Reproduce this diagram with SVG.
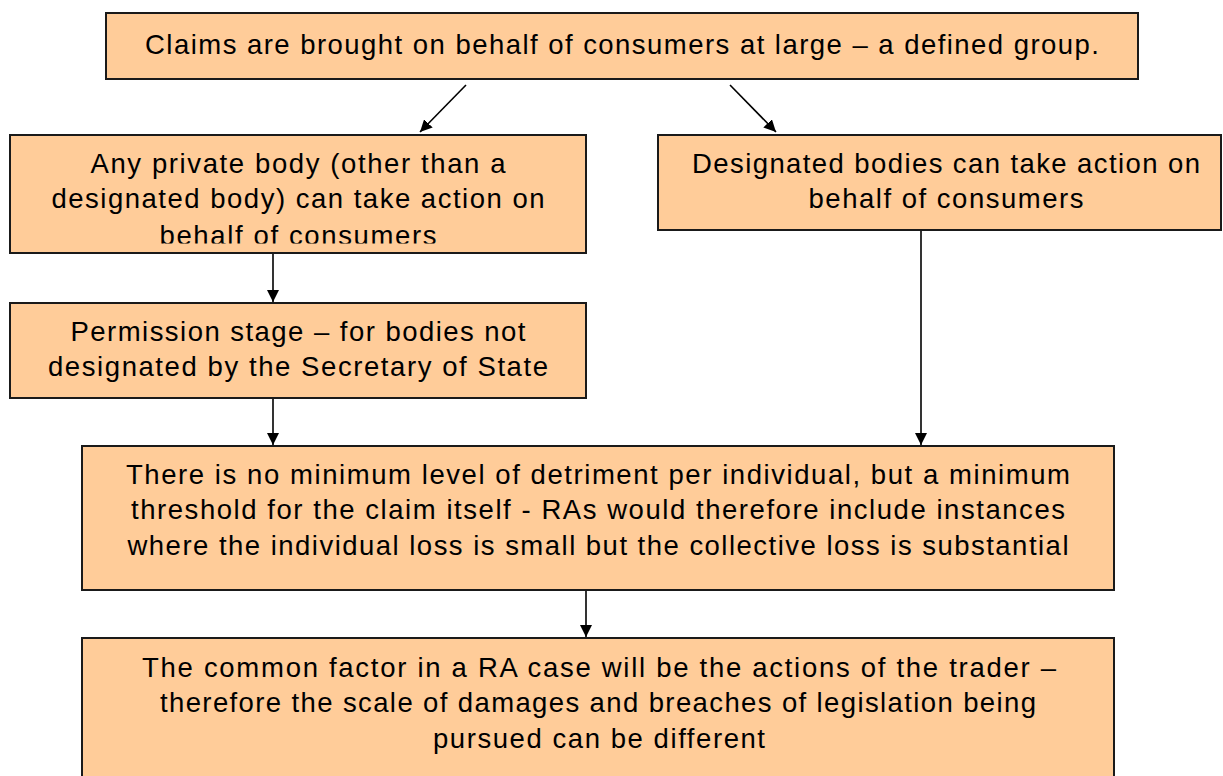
<svg xmlns="http://www.w3.org/2000/svg" width="1223" height="776" viewBox="0 0 1223 776">
  <style>
    .box { fill: #FFCC99; stroke: #1a1a1a; stroke-width: 2; }
    .lbl { font-family: "Liberation Sans", Arial, sans-serif; font-size: 27.5px; fill: #000; text-anchor: middle; }
    .edge { stroke: #000; stroke-width: 1.6; fill: none; marker-end: url(#arrow); }
  </style>
  <defs>
    <marker id="arrow" viewBox="0 0 12 12" refX="12" refY="6" markerWidth="12" markerHeight="12" markerUnits="userSpaceOnUse" orient="auto">
      <path d="M0,0 L12,6 L0,12 Z" fill="#000"/>
    </marker>
    <clipPath id="clipA">
      <rect x="10" y="135" width="576" height="108.5"/>
    </clipPath>
  </defs>
  <rect width="1223" height="776" fill="#fff"/>

  <g id="connectors">
    <line class="edge" x1="466" y1="85" x2="420" y2="132"/>
    <line class="edge" x1="730" y1="85" x2="776" y2="132"/>
    <line class="edge" x1="273" y1="254" x2="273" y2="302"/>
    <line class="edge" x1="273" y1="399" x2="273" y2="445"/>
    <line class="edge" x1="921" y1="231" x2="921" y2="445"/>
    <line class="edge" x1="586" y1="591" x2="586" y2="637"/>
  </g>

  <g id="node-claims">
    <rect class="box" x="106" y="13" width="1032" height="66"/>
    <text class="lbl" x="622" y="54" textLength="954">Claims are brought on behalf of consumers at large – a defined group.</text>
  </g>

  <g id="node-private">
    <rect class="box" x="10" y="135" width="576" height="118"/>
    <g clip-path="url(#clipA)">
      <text class="lbl" x="298" y="173" textLength="415">Any private body (other than a</text>
      <text class="lbl" x="298" y="208" textLength="493">designated body) can take action on</text>
      <text class="lbl" x="298" y="245" textLength="277">behalf of consumers</text>
    </g>
  </g>

  <g id="node-designated">
    <rect class="box" x="658" y="135" width="563" height="95"/>
    <text class="lbl" x="946" y="173" textLength="508">Designated bodies can take action on</text>
    <text class="lbl" x="946" y="208" textLength="275">behalf of consumers</text>
  </g>

  <g id="node-permission">
    <rect class="box" x="10" y="303" width="576" height="95"/>
    <text class="lbl" x="298" y="341" textLength="455">Permission stage – for bodies not</text>
    <text class="lbl" x="298" y="376" textLength="500">designated by the Secretary of State</text>
  </g>

  <g id="node-threshold">
    <rect class="box" x="82" y="446" width="1032" height="144"/>
    <text class="lbl" x="598" y="484" textLength="944">There is no minimum level of detriment per individual, but a minimum</text>
    <text class="lbl" x="598" y="519" textLength="934">threshold for the claim itself - RAs would therefore include instances</text>
    <text class="lbl" x="598" y="555" textLength="941">where the individual loss is small but the collective loss is substantial</text>
  </g>

  <g id="node-common">
    <rect class="box" x="82" y="638" width="1032" height="160"/>
    <text class="lbl" x="599" y="677" textLength="914">The common factor in a RA case will be the actions of the trader –</text>
    <text class="lbl" x="598" y="712" textLength="876">therefore the scale of damages and breaches of legislation being</text>
    <text class="lbl" x="599" y="748" textLength="332">pursued can be different</text>
  </g>
</svg>
